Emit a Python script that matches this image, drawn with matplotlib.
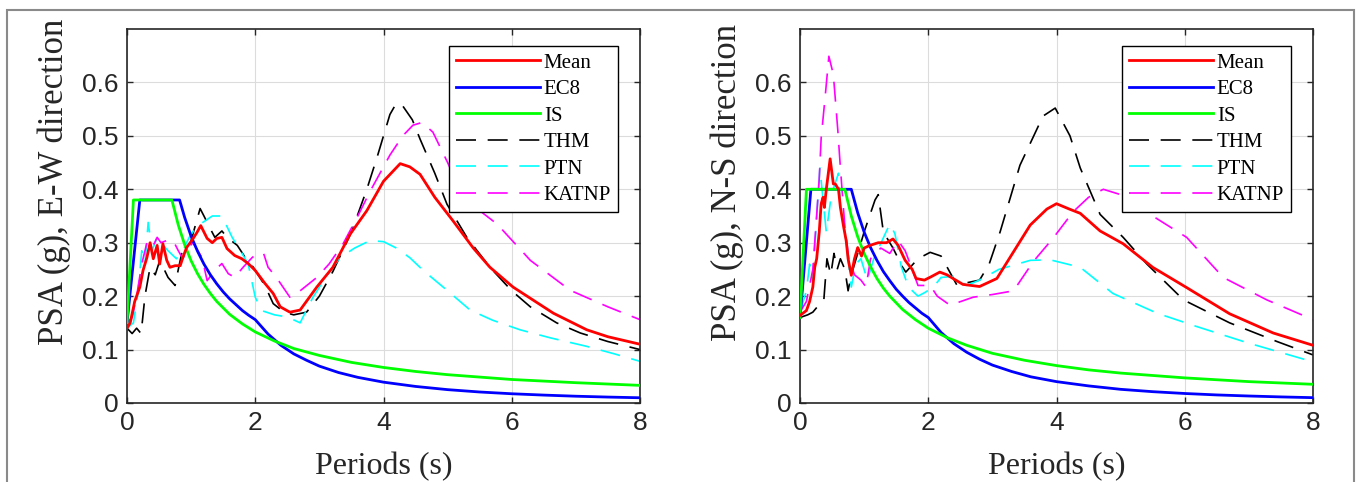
import matplotlib
matplotlib.use('Agg')
import matplotlib.pyplot as plt
from matplotlib.patches import Rectangle

# --- Data: periods (s) and PSA (g) ---

# E-W direction (left panel)
ew_mean_t = [0, 0.05, 0.12, 0.2, 0.25, 0.31, 0.36, 0.41, 0.47, 0.51, 0.56, 0.62, 0.67, 0.75, 0.83,
             0.87, 0.93, 1.01, 1.09, 1.15, 1.25, 1.33, 1.4, 1.48, 1.56, 1.68, 1.79, 1.89, 2.0, 2.15,
             2.28, 2.39, 2.54, 2.7, 2.96, 3.21, 3.48, 3.74, 4.0, 4.26, 4.41, 4.57, 4.8, 5.09, 5.4,
             5.66, 6.02, 6.65, 7.17, 7.5, 8.0]
ew_mean = [0.14, 0.15, 0.19, 0.217, 0.248, 0.272, 0.30, 0.27, 0.295, 0.26, 0.298, 0.267, 0.254, 0.257,
           0.257, 0.272, 0.291, 0.304, 0.319, 0.332, 0.308, 0.30, 0.308, 0.31, 0.289, 0.276, 0.27, 0.261,
           0.248, 0.224, 0.205, 0.18, 0.17, 0.174, 0.217, 0.254, 0.316, 0.36, 0.415, 0.448, 0.442, 0.428,
           0.385, 0.34, 0.29, 0.254, 0.217, 0.168, 0.137, 0.124, 0.11]

ew_ec8_t = [0, 0.2, 0.82, 0.9, 1.0, 1.1, 1.2, 1.3, 1.4, 1.5, 1.6, 1.7, 1.8, 1.9, 2.0, 2.2, 2.4, 2.6,
            2.8, 3.0, 3.3, 3.6, 4.0, 4.5, 5, 5.5, 6, 6.5, 7, 7.5, 8]
ew_ec8 = [0.15, 0.38, 0.38, 0.347, 0.312, 0.284, 0.26, 0.24, 0.223, 0.208, 0.195, 0.184, 0.173, 0.164,
          0.156, 0.129, 0.108, 0.092, 0.080, 0.069, 0.057, 0.048, 0.039, 0.031, 0.025, 0.0206, 0.0173,
          0.0148, 0.0127, 0.0111, 0.0098]

ew_is_t = [0, 0.1, 0.7, 0.8, 0.9, 1.0, 1.1, 1.2, 1.3, 1.4, 1.6, 1.8, 2.0, 2.3, 2.6, 3.0, 3.5, 4, 4.5,
           5, 6, 7, 8]
ew_is = [0.15, 0.38, 0.38, 0.333, 0.296, 0.266, 0.242, 0.222, 0.205, 0.19, 0.166, 0.148, 0.133, 0.116,
         0.102, 0.089, 0.076, 0.0665, 0.059, 0.053, 0.044, 0.038, 0.033]

ew_thm_t = [0, 0.08, 0.15, 0.22, 0.28, 0.36, 0.44, 0.52, 0.58, 0.64, 0.75, 0.8, 0.87, 0.99, 1.14,
            1.2, 1.3, 1.37, 1.48, 1.56, 1.72, 1.84, 1.97, 2.15, 2.28, 2.45, 2.6, 2.8, 3.0, 3.21, 3.5,
            3.74, 3.9, 4.0, 4.1, 4.2, 4.3, 4.45, 4.57, 4.8, 4.99, 5.3, 5.66, 6.0, 6.29, 6.7, 7.07,
            7.5, 8.0]
ew_thm = [0.14, 0.13, 0.14, 0.13, 0.2, 0.254, 0.24, 0.27, 0.25, 0.235, 0.22, 0.25, 0.29, 0.30, 0.364,
          0.35, 0.326, 0.31, 0.322, 0.31, 0.295, 0.273, 0.254, 0.22, 0.186, 0.17, 0.165, 0.17, 0.20,
          0.246, 0.32, 0.40, 0.46, 0.50, 0.54, 0.561, 0.556, 0.53, 0.494, 0.43, 0.372, 0.31, 0.254,
          0.21, 0.18, 0.15, 0.131, 0.115, 0.10]

ew_ptn_t = [0, 0.1, 0.17, 0.23, 0.28, 0.33, 0.39, 0.47, 0.53, 0.64, 0.77, 0.87, 0.97, 1.08, 1.22,
            1.33, 1.48, 1.64, 1.77, 1.89, 2.0, 2.1, 2.3, 2.5, 2.7, 2.9, 3.1, 3.32, 3.55, 3.79, 4.0,
            4.2, 4.41, 4.62, 5.0, 5.35, 5.7, 6.13, 6.6, 7.17, 7.6, 8.0]
ew_ptn = [0.14, 0.15, 0.205, 0.285, 0.26, 0.338, 0.285, 0.31, 0.30, 0.285, 0.27, 0.285, 0.31, 0.33,
          0.341, 0.35, 0.35, 0.31, 0.285, 0.26, 0.198, 0.173, 0.165, 0.161, 0.15, 0.198, 0.235, 0.272,
          0.29, 0.304, 0.302, 0.29, 0.272, 0.248, 0.21, 0.174, 0.155, 0.137, 0.122, 0.106, 0.092, 0.078]

ew_katnp_t = [0, 0.08, 0.15, 0.23, 0.31, 0.39, 0.47, 0.53, 0.64, 0.72, 0.8, 0.87, 0.95, 1.03, 1.17,
              1.25, 1.38, 1.48, 1.58, 1.68, 1.81, 1.95, 2.03, 2.13, 2.2, 2.33, 2.54, 2.7, 2.96, 3.15,
              3.37, 3.6, 3.79, 4.1, 4.3, 4.46, 4.6, 4.77, 5.0, 5.2, 5.5, 5.77, 6.29, 6.91, 7.5, 8.0]
ew_katnp = [0.15, 0.16, 0.2, 0.26, 0.30, 0.29, 0.31, 0.30, 0.305, 0.304, 0.285, 0.27, 0.29, 0.30, 0.272,
            0.229, 0.25, 0.261, 0.242, 0.235, 0.254, 0.272, 0.28, 0.28, 0.254, 0.235, 0.198, 0.21,
            0.235, 0.26, 0.298, 0.35, 0.396, 0.464, 0.50, 0.52, 0.525, 0.507, 0.45, 0.396, 0.36, 0.335,
            0.267, 0.211, 0.18, 0.156]

# N-S direction (right panel)
ns_mean_t = [0, 0.1, 0.15, 0.2, 0.23, 0.26, 0.3, 0.33, 0.36, 0.38, 0.41, 0.47, 0.52, 0.55, 0.6, 0.63,
             0.68, 0.72, 0.75, 0.8, 0.85, 0.9, 0.96, 1.0, 1.09, 1.22, 1.35, 1.45, 1.53, 1.64, 1.75,
             1.81, 1.94, 2.04, 2.18, 2.29, 2.54, 2.8, 3.07, 3.33, 3.59, 3.85, 4.0, 4.2, 4.37, 4.68,
             5.04, 5.5, 6.03, 6.7, 7.38, 8.0]
ns_mean = [0.164, 0.173, 0.19, 0.217, 0.254, 0.27, 0.32, 0.373, 0.385, 0.366, 0.40, 0.457, 0.41, 0.41,
           0.40, 0.366, 0.33, 0.304, 0.27, 0.239, 0.27, 0.291, 0.275, 0.29, 0.295, 0.30, 0.30, 0.307,
           0.295, 0.267, 0.25, 0.233, 0.23, 0.236, 0.245, 0.24, 0.222, 0.218, 0.233, 0.283, 0.333,
           0.363, 0.373, 0.363, 0.355, 0.322, 0.298, 0.254, 0.216, 0.167, 0.131, 0.108]

ns_ec8_t = [0, 0.17, 0.8, 0.9, 1.0, 1.1, 1.2, 1.3, 1.4, 1.5, 1.6, 1.7, 1.8, 1.9, 2.0, 2.2, 2.4, 2.6,
            2.8, 3.0, 3.3, 3.6, 4.0, 4.5, 5, 5.5, 6, 6.5, 7, 7.5, 8]
ns_ec8 = [0.16, 0.40, 0.40, 0.356, 0.32, 0.291, 0.267, 0.246, 0.229, 0.213, 0.2, 0.188, 0.178, 0.168,
          0.16, 0.132, 0.111, 0.095, 0.082, 0.071, 0.059, 0.049, 0.040, 0.032, 0.0256, 0.0212, 0.0178,
          0.0151, 0.0131, 0.0114, 0.010]

ns_is_t = [0, 0.1, 0.7, 0.8, 0.9, 1.0, 1.1, 1.2, 1.3, 1.4, 1.6, 1.8, 2.0, 2.3, 2.6, 3.0, 3.5, 4, 4.5,
           5, 6, 7, 8]
ns_is = [0.16, 0.40, 0.40, 0.35, 0.311, 0.28, 0.255, 0.233, 0.215, 0.2, 0.175, 0.156, 0.14, 0.122,
         0.108, 0.093, 0.08, 0.07, 0.062, 0.056, 0.047, 0.04, 0.035]

ns_thm_t = [0, 0.12, 0.2, 0.27, 0.37, 0.42, 0.48, 0.53, 0.58, 0.63, 0.7, 0.75, 0.8, 0.9, 1.0, 1.17,
            1.22, 1.3, 1.45, 1.6, 1.65, 1.84, 2.03, 2.2, 2.45, 2.6, 2.8, 2.95, 3.12, 3.43, 3.79, 3.98,
            4.21, 4.37, 4.68, 5.04, 5.41, 5.98, 6.7, 7.44, 8.0]
ns_thm = [0.16, 0.165, 0.17, 0.18, 0.19, 0.27, 0.24, 0.28, 0.25, 0.27, 0.25, 0.21, 0.24, 0.28, 0.32,
          0.38, 0.39, 0.32, 0.29, 0.254, 0.245, 0.27, 0.282, 0.275, 0.22, 0.225, 0.23, 0.26, 0.32,
          0.445, 0.537, 0.552, 0.50, 0.44, 0.353, 0.31, 0.26, 0.193, 0.15, 0.115, 0.09]

ns_ptn_t = [0, 0.1, 0.15, 0.2, 0.25, 0.31, 0.36, 0.41, 0.49, 0.6, 0.63, 0.7, 0.8, 0.87, 0.95, 1.05,
            1.15, 1.33, 1.4, 1.48, 1.58, 1.69, 1.84, 1.95, 2.08, 2.2, 2.4, 2.6, 2.8, 3.1, 3.59, 3.9,
            4.37, 4.88, 5.57, 6.19, 6.97, 8.0]
ns_ptn = [0.17, 0.21, 0.26, 0.23, 0.33, 0.44, 0.38, 0.32, 0.39, 0.43, 0.37, 0.32, 0.217, 0.26, 0.27,
          0.23, 0.27, 0.317, 0.335, 0.317, 0.255, 0.217, 0.2, 0.207, 0.217, 0.235, 0.237, 0.22, 0.23,
          0.25, 0.267, 0.268, 0.254, 0.205, 0.168, 0.143, 0.113, 0.077]

ns_katnp_t = [0, 0.1, 0.2, 0.3, 0.33, 0.39, 0.45, 0.52, 0.59, 0.63, 0.7, 0.76, 0.85, 0.95, 1.03, 1.1,
              1.26, 1.4, 1.53, 1.64, 1.75, 1.84, 2.03, 2.14, 2.34, 2.7, 3.0, 3.33, 3.64, 3.95, 4.26,
              4.5, 4.73, 5.0, 5.46, 6.03, 6.6, 7.28, 8.0]
ns_katnp = [0.17, 0.19, 0.25, 0.42, 0.496, 0.57, 0.649, 0.615, 0.51, 0.44, 0.33, 0.27, 0.24, 0.23,
            0.217, 0.27, 0.29, 0.28, 0.304, 0.285, 0.25, 0.22, 0.22, 0.2, 0.183, 0.198, 0.203, 0.21,
            0.265, 0.309, 0.358, 0.385, 0.40, 0.39, 0.353, 0.31, 0.235, 0.193, 0.156]

labels = ['Mean', 'EC8', 'IS', 'THM', 'PTN', 'KATNP']
y_ticks = [0, 0.1, 0.2, 0.3, 0.4, 0.5, 0.6]
y_tick_labels = ['0', '0.1', '0.2', '0.3', '0.4', '0.5', '0.6']
x_ticks = [0, 2, 4, 6, 8]

serif = 'Liberation Serif'
sans = 'Liberation Sans'
dash = (0, (12, 7))


def draw_panel(ax, series, ylabel):
    (m_t, m), (e_t, e), (i_t, i), (th_t, th), (p_t, p), (k_t, k) = series
    l_thm, = ax.plot(th_t, th, color='black', lw=1.2, linestyle=dash, zorder=2)
    l_ptn, = ax.plot(p_t, p, color='#00ffff', lw=1.2, linestyle=dash, zorder=2)
    l_kat, = ax.plot(k_t, k, color='#ff00ff', lw=1.2, linestyle=dash, zorder=2)
    l_ec8, = ax.plot(e_t, e, color='#0000ff', lw=2.0, zorder=3)
    l_is, = ax.plot(i_t, i, color='#00ff00', lw=2.0, zorder=3)
    l_mean, = ax.plot(m_t, m, color='#ff0000', lw=2.0, zorder=4)

    ax.set_xlim(0, 8)
    ax.set_ylim(0, 0.7)
    ax.set_xticks(x_ticks)
    ax.set_yticks(y_ticks)
    ax.set_yticklabels(y_tick_labels)
    ax.grid(True, color='#dcdcdc', lw=0.8)
    ax.set_axisbelow(True)
    ax.tick_params(direction='in', top=True, right=True, length=4, width=1,
                   colors='#262626', labelsize=19, pad=6)
    for lab in ax.get_xticklabels() + ax.get_yticklabels():
        lab.set_fontfamily(sans)
    for sp in ax.spines.values():
        sp.set_color('#262626')
        sp.set_linewidth(1.2)

    ax.set_xlabel('Periods (s)', fontfamily=serif, fontsize=23, color='#262626')
    ax.xaxis.set_label_coords(0.5, -0.13)
    ax.set_ylabel(ylabel, fontfamily=serif, fontsize=25, color='#262626')
    ax.yaxis.set_label_coords(-0.11, 0.59)

    leg = ax.legend([l_mean, l_ec8, l_is, l_thm, l_ptn, l_kat], labels,
                    loc='upper right', bbox_to_anchor=(0.958, 0.955), borderaxespad=0,
                    fancybox=False, framealpha=1, edgecolor='black',
                    prop={'family': serif, 'size': 15},
                    handlelength=4.0, handletextpad=0.2, labelspacing=0.33, borderpad=0.35)
    leg.get_frame().set_linewidth(1.0)


fig = plt.figure(figsize=(13.57, 4.82), dpi=100)
ax1 = fig.add_axes([127 / 1357, 79 / 482, 513 / 1357, 374 / 482])
ax2 = fig.add_axes([800 / 1357, 79 / 482, 513 / 1357, 374 / 482])

draw_panel(ax1, [(ew_mean_t, ew_mean), (ew_ec8_t, ew_ec8), (ew_is_t, ew_is),
                 (ew_thm_t, ew_thm), (ew_ptn_t, ew_ptn), (ew_katnp_t, ew_katnp)],
           'PSA (g), E-W direction')
draw_panel(ax2, [(ns_mean_t, ns_mean), (ns_ec8_t, ns_ec8), (ns_is_t, ns_is),
                 (ns_thm_t, ns_thm), (ns_ptn_t, ns_ptn), (ns_katnp_t, ns_katnp)],
           'PSA (g), N-S direction')

# outer frame of the figure panel
fig.patches.append(Rectangle((7 / 1357, -0.2), 1347 / 1357, 1.2 - 10 / 482,
                             transform=fig.transFigure, fill=False,
                             edgecolor='#8a8a8a', lw=1.5))

fig.savefig('out.png', dpi=100)
